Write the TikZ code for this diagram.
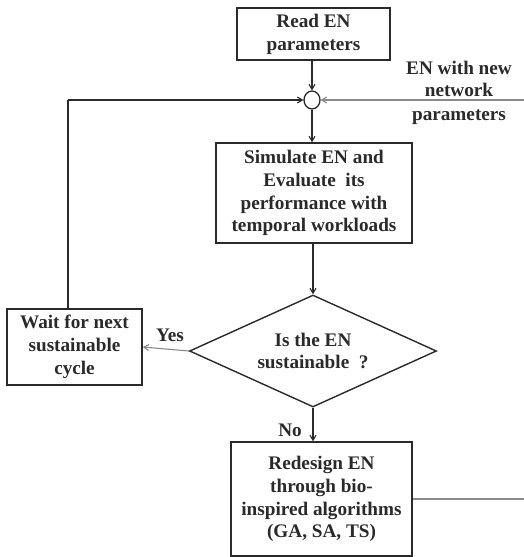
\documentclass[tikz,border=0pt]{standalone}
\usepackage{fontspec}
\setmainfont{Liberation Serif}
\usetikzlibrary{shapes.geometric,arrows.meta}
\definecolor{ink}{HTML}{2A2A2A}
\definecolor{lightink}{HTML}{8A8A8A}
\begin{document}
\begin{tikzpicture}[x=1pt,y=-1pt,
  txt/.style={font=\bfseries\fontsize{19.2}{22.8}\selectfont, text=ink, align=center},
  procbox/.style={txt, draw=ink, line width=1.5pt, inner sep=0pt},
  decision/.style={txt, draw=ink, line width=1.4pt, shape=diamond, aspect=2.2, inner sep=0pt,
    minimum width=247pt, minimum height=112pt},
  junction/.style={draw=ink, line width=1.3pt, ellipse, minimum width=16pt, minimum height=18pt, inner sep=0pt},
  flow/.style={draw=ink, line width=1.1pt, -{Straight Barb[length=5pt,width=6pt]}},
  plain/.style={draw=ink, line width=1.1pt},
  faint/.style={draw=lightink, line width=1.1pt},
  lbl/.style={txt}]
\useasboundingbox (0,0) rectangle (524,557);

% process boxes
\node[procbox, minimum width=153pt, minimum height=52pt] (read) at (313.5,34) {Read EN\\parameters};
\node[junction] (sum) at (312,100) {};
\node[procbox, minimum width=196pt, minimum height=100pt] (sim) at (314,193)
  {Simulate EN and\\Evaluate\ \ its\\performance with\\temporal workloads};
\node[decision] (dia) at (313,351) {Is the EN\\sustainable\ \ ?};
\node[procbox, minimum width=135pt, minimum height=76pt] (wait) at (74.5,347)
  {Wait for next\\sustainable\\cycle};
\node[procbox, minimum width=181pt, minimum height=114pt] (red) at (321.5,499)
  {Redesign EN\\through bio-\\inspired algorithms\\(GA, SA, TS)};

% labels
\node[lbl] (enlbl) at (459,79) {EN with new\\network};
\node[lbl] (parlbl) at (459,117) {parameters};
\node[lbl] (yes) at (170,335) {Yes};
\node[lbl] (no) at (290,430) {No};

% free ends of the loop lines
\coordinate (lc) at (68,100);
\coordinate (rin) at (524,100);
\coordinate (rout) at (524,499);

% connectors
\draw[flow] (read.south -| sum.north) -- (sum.north);
\draw[flow] (sum.south) -- (sum.south |- sim.north);
\draw[flow] (sim.south -| dia.north) -- (dia.north);
\draw[flow] (dia.south) -- (dia.south |- red.north);
\draw[flow, draw=lightink] (dia.west) -- (wait.east);
\draw[plain] (wait.north -| lc) -- (lc);
\draw[flow] (lc) -- (sum.west);
\draw[flow, draw=lightink] (rin) -- (sum.east);
\draw[faint] (red.east) -- (rout);
\end{tikzpicture}
\end{document}
